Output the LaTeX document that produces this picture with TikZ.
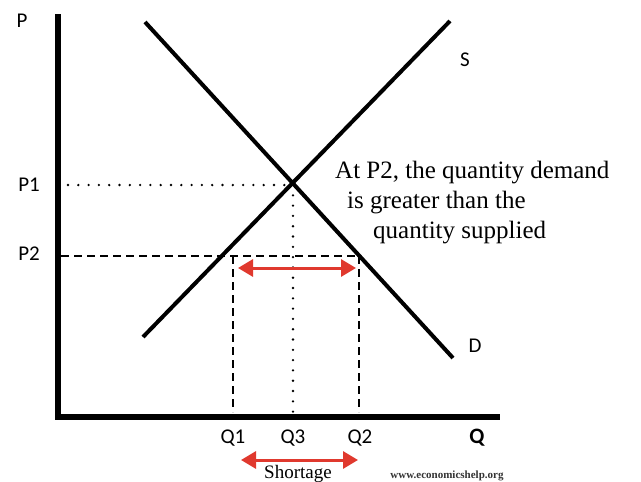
\documentclass[tikz,border=0pt]{standalone}
\usepackage{fontspec}
\setmainfont{Liberation Serif}
\newfontfamily\labelfont{Carlito}
\usetikzlibrary{arrows.meta}
\definecolor{Shortage}{HTML}{E0392E}
\definecolor{Credit}{HTML}{333333}

\begin{document}
\begin{tikzpicture}[x=1pt,y=-1pt, lbl/.style={font=\labelfont\fontsize{21}{21}\selectfont,text=black}, note/.style={font=\fontsize{25}{25}\selectfont,anchor=base west,inner sep=0pt}, axis/.style={line width=6pt,black}, curve/.style={line width=4pt,black}, guide/.style={line width=2.5pt,dash pattern=on 8pt off 5pt}, dotline/.style={line width=2.6pt,line cap=round,dash pattern=on 0pt off 10.3pt}, gap/.style={{Triangle[length=15pt,width=17pt]}-{Triangle[length=15pt,width=17pt]},line width=3pt,draw=Shortage}]
\clip (0,0) rectangle (641,482);
\fill[white] (0,0) rectangle (641,482);
% axes
\coordinate (O) at (58,417);\coordinate (Ptop) at (58,14);\coordinate (Qend) at (500,417);
\draw[axis] (Ptop)--(O.center)--(Qend);
\node[lbl] (P) at (22,21) {P};\node[lbl,font=\labelfont\bfseries\fontsize{22}{22}\selectfont] (Q) at (477,438) {Q};
% supply and demand
\coordinate (S0) at (143,337);\coordinate (S1) at (450,21);\coordinate (D0) at (145,22);\coordinate (D1) at (453,358);
\draw[curve] (S0)--(S1);\draw[curve] (D0)--(D1);
\node[lbl] (S) at (465,60) {S};\node[lbl] (D) at (475,346) {D};
% price levels
\node[lbl] (P1) at (29,185) {P1};\node[lbl] (P2) at (29,254) {P2};
\coordinate (E) at (293,185);\coordinate (E0) at (293,413);\coordinate (F) at (68,185);
\coordinate (A) at (233,256);\coordinate (B) at (359,256);\coordinate (A0) at (233,412);\coordinate (B0) at (359,412);\coordinate (G) at (61,256);
\draw[dotline] (F)--(E);\draw[dotline] (E)--(E0);
\draw[guide] (G)--(B);\draw[guide] (A)--(A0);\draw[guide] (B)--(B0);
\node[lbl] (Q1) at (233,438) {Q1};\node[lbl] (Q3) at (293,438) {Q3};\node[lbl] (Q2) at (360,438) {Q2};
% shortage arrows
\coordinate (M0) at (238,268);\coordinate (M1) at (356,268);\coordinate (L0) at (241,460);\coordinate (L1) at (358,460);
\draw[gap] (M0)--(M1);\draw[gap] (L0)--(L1);
\node[note,font=\fontsize{19}{19}\selectfont] (short) at (264,478) {Shortage};
\node[font=\bfseries\fontsize{11}{11}\selectfont,text=Credit,anchor=base] (web) at (447,478) {www.economicshelp.org};
% explanation
\node[note] (t1) at (335,178) {At P2, the quantity demand};
\node[note] (t2) at (347,208) {is greater than the};
\node[note] (t3) at (373,238) {quantity supplied};
\end{tikzpicture}
\end{document}
